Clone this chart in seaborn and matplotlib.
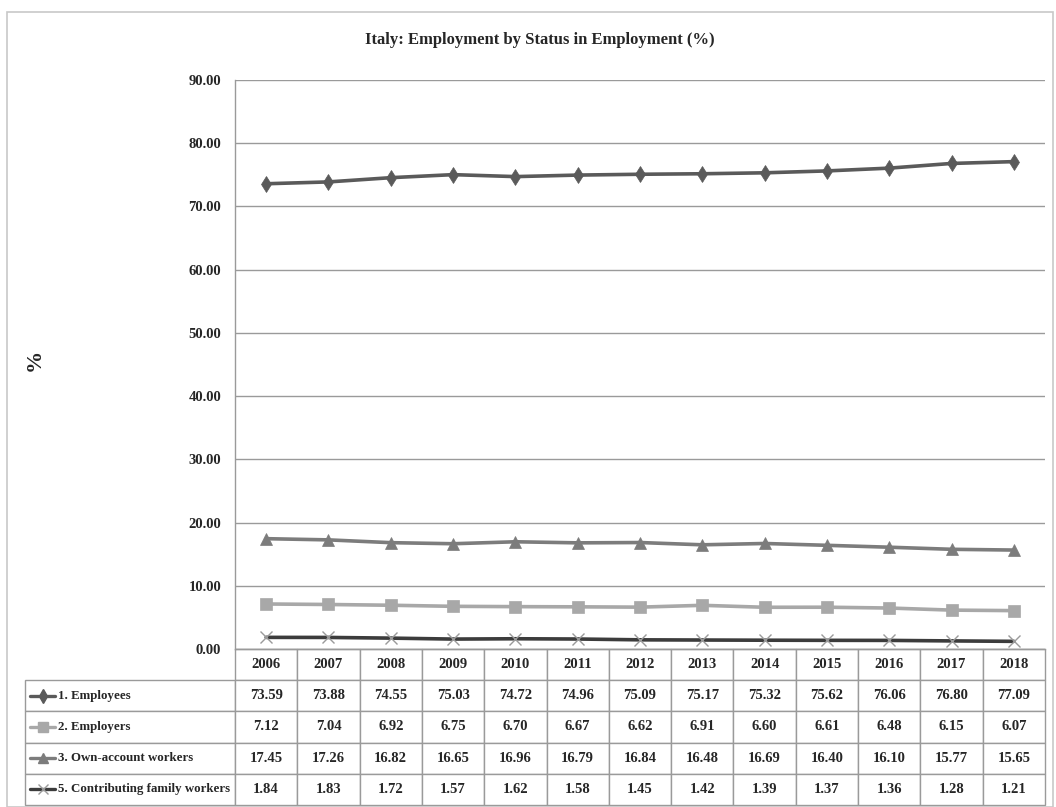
import matplotlib
matplotlib.use('Agg')
import matplotlib.pyplot as plt
from matplotlib.patches import Rectangle
from matplotlib.lines import Line2D
import seaborn as sns
import pandas as pd
import numpy as np

years = [2006, 2007, 2008, 2009, 2010, 2011, 2012, 2013, 2014, 2015, 2016, 2017, 2018]
employees = [73.59, 73.88, 74.55, 75.03, 74.72, 74.96, 75.09, 75.17, 75.32, 75.62, 76.06, 76.80, 77.09]
employers = [7.12, 7.04, 6.92, 6.75, 6.70, 6.67, 6.62, 6.91, 6.60, 6.61, 6.48, 6.15, 6.07]
own_account = [17.45, 17.26, 16.82, 16.65, 16.96, 16.79, 16.84, 16.48, 16.69, 16.40, 16.10, 15.77, 15.65]
family_workers = [1.84, 1.83, 1.72, 1.57, 1.62, 1.58, 1.45, 1.42, 1.39, 1.37, 1.36, 1.28, 1.21]
series_names = ['1. Employees', '2. Employers', '3. Own-account workers', '5. Contributing family workers']
y_ticks = [0, 10, 20, 30, 40, 50, 60, 70, 80, 90]

sns.set_style('white')
plt.rcParams['font.family'] = ['Liberation Serif', 'DejaVu Serif']
plt.rcParams['font.weight'] = 'bold'

# line color, marker, marker size, marker color
styles = [
    ('#5a5a5a', 'd', 8.5, '#5a5a5a'),
    ('#a8a8a8', 's', 9, '#a8a8a8'),
    ('#7c7c7c', '^', 9, '#7c7c7c'),
    ('#3c3c3c', 'x', 9, '#9a9a9a'),
]
values = [employees, employers, own_account, family_workers]

fig = plt.figure(figsize=(10.56, 8.07), dpi=100)
ax = fig.add_axes([235 / 1056, 1 - 649 / 807, 810 / 1056, 569 / 807])

for name, vals, (lc, mk, ms, mc) in zip(series_names, values, styles):
    df = pd.DataFrame({'x': np.arange(len(years)), 'value': vals})
    sns.lineplot(data=df, x='x', y='value', ax=ax, color=lc, linewidth=2.6,
                 marker=mk, markersize=ms, markerfacecolor=mc,
                 markeredgecolor=mc, markeredgewidth=1.0 if mk == 'x' else 0.5,
                 legend=False)

ax.set_xlim(-0.5, len(years) - 0.5)
ax.set_ylim(0, 90)
ax.set_yticks(y_ticks)
ax.set_yticklabels([f'{t:.2f}' for t in y_ticks], fontsize=10.5, fontweight='bold')
ax.set_xticks([])
ax.set_xlabel('')
ax.set_ylabel('')
ax.tick_params(axis='y', length=0, pad=10)
ax.grid(axis='y', color='#9a9a9a', linewidth=1.0)
ax.grid(axis='x', visible=False)
for side in ['top', 'right']:
    ax.spines[side].set_visible(False)
for side in ['left', 'bottom']:
    ax.spines[side].set_color('#9a9a9a')
    ax.spines[side].set_linewidth(1.0)

# data table under the plot
label_w = 210 / 810
tbl_h = 156 / 569
rows = [[''] + [str(y) for y in years]]
for name, vals in zip(series_names, values):
    rows.append([''] + [f'{v:.2f}' for v in vals])
col_w = [210] + [810 / len(years)] * len(years)
table = ax.table(cellText=rows, colWidths=col_w, cellLoc='center',
                 bbox=[-label_w, -tbl_h, 1 + label_w, tbl_h])
table.auto_set_font_size(False)
for (r, c), cell in table.get_celld().items():
    cell.set_edgecolor('#9a9a9a')
    cell.set_linewidth(1.0)
    cell.get_text().set_fontsize(10.5)
    cell.get_text().set_fontweight('bold')
    if r == 0 and c == 0:
        cell.visible_edges = ''

row_h = tbl_h / 5
for i, (name, (lc, mk, ms, mc)) in enumerate(zip(series_names, styles)):
    yc = -row_h * (i + 1.5)
    x0 = -label_w + 5 / 810
    x1 = -label_w + 30 / 810
    ax.add_line(Line2D([x0, x1], [yc, yc], transform=ax.transAxes, color=lc,
                       linewidth=2.4, clip_on=False))
    ax.add_line(Line2D([(x0 + x1) / 2], [yc], transform=ax.transAxes,
                       marker=mk, markersize=ms * 0.85, color=mc,
                       markeredgecolor=mc, linestyle='none', clip_on=False))
    ax.text(-label_w + 33 / 810, yc, name, transform=ax.transAxes,
            ha='left', va='center', fontsize=9.3, fontweight='bold')

fig.text(540 / 1056, 1 - 40 / 807, 'Italy: Employment by Status in Employment (%)',
         ha='center', va='center', fontsize=12, fontweight='bold')
fig.text(35 / 1056, 1 - 360 / 807, '%', rotation=90, ha='center', va='center',
         fontsize=16, fontweight='bold')

fig.patches.append(Rectangle((7 / 1056, 0), 1046 / 1056, 1 - 12 / 807,
                             transform=fig.transFigure, fill=False,
                             edgecolor='#c8c8c8', linewidth=1.2))

fig.savefig('out.png', dpi=100)
